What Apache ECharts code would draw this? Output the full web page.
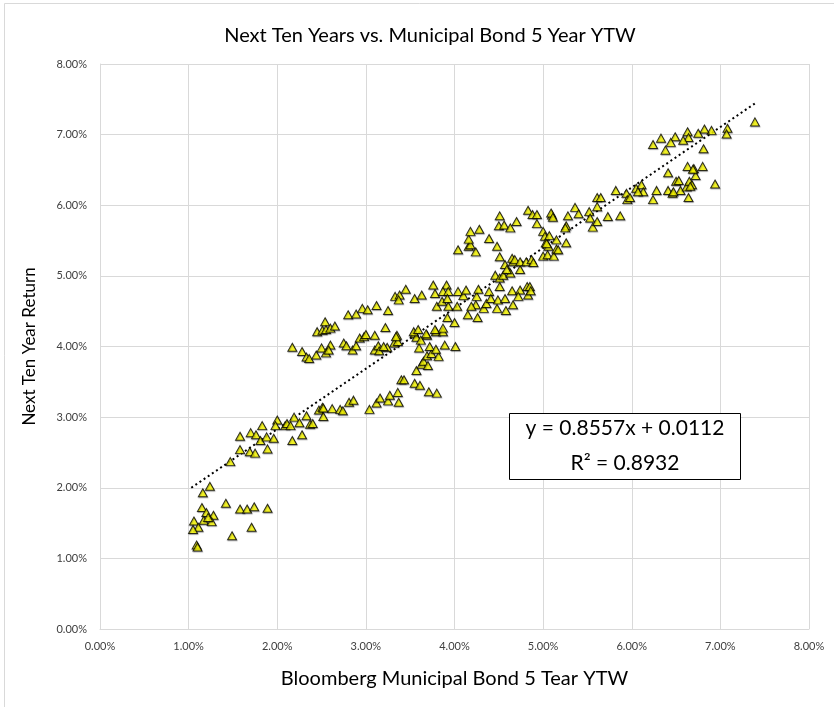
<!DOCTYPE html>
<html>
<head>
<meta charset="utf-8">
<script src="https://cdn.jsdelivr.net/npm/echarts@6/dist/echarts.min.js"></script>
<style>
html,body{margin:0;padding:0;background:#fff;}
#chart{width:834px;height:707px;}
</style>
</head>
<body>
<div id="chart"></div>
<script>
// Bloomberg Municipal Bond 5 Year YTW (%)
const ytw = [
1.24,1.16,1.15,1.20,1.28,1.06,1.17,1.26,1.11,1.05,1.09,1.10,1.42,1.49,1.58,1.66,1.74,1.71,1.89,1.22,
1.47,1.58,1.58,1.69,1.75,1.70,1.76,1.81,1.89,1.83,1.88,1.96,2.00,1.98,2.09,2.11,2.15,2.19,2.17,2.25,
2.28,2.33,2.37,2.40,2.47,2.51,2.52,2.52,2.62,2.71,2.74,2.81,2.86,3.04,3.12,3.16,3.25,3.27,3.36,3.37,
3.40,3.43,3.55,3.61,3.71,3.80,3.57,3.63,3.65,3.70,3.69,3.74,3.82,
2.17,2.28,2.33,2.36,2.44,2.50,2.55,2.60,2.58,2.54,2.45,2.51,2.55,2.60,2.65,2.80,2.89,2.96,3.02,3.12,
3.25,2.75,2.78,2.85,2.89,2.93,2.98,3.00,3.10,3.10,3.14,3.15,3.22,3.24,3.32,3.35,3.36,3.20,3.34,3.33,
3.38,3.45,3.37,3.55,3.63,3.55,3.57,3.62,3.60,3.69,3.79,3.87,3.72,3.89,3.79,4.01,3.54,3.59,3.68,3.78,
3.87,4.00,3.92,3.80,3.86,3.93,4.03,3.78,3.76,3.91,3.87,3.93,3.92,4.04,4.10,4.13,4.25,4.24,4.27,4.15,
4.19,4.26,4.33,4.36,4.39,4.41,4.48,4.49,4.51,4.57,4.58,4.66,4.65,4.74,4.82,4.85,4.83,4.86,4.72,
4.46,4.51,4.55,4.57,4.63,4.59,4.66,4.74,4.65,4.68,4.74,4.81,4.87,4.89,4.51,
4.04,4.16,4.24,4.18,4.16,4.18,4.28,4.39,4.48,4.51,4.50,4.56,4.63,4.70,4.83,4.88,4.93,4.93,5.10,5.00,
5.02,5.03,5.06,5.00,5.05,5.12,5.15,5.15,5.09,5.11,5.04,5.07,5.17,5.26,
5.28,5.26,5.25,5.36,5.40,5.52,5.53,5.56,5.61,5.61,5.61,5.65,5.73,5.87,5.82,5.94,5.95,5.98,6.05,6.11,
6.13,6.07,6.24,6.28,6.41,6.46,6.50,6.55,6.64,6.62,6.65,6.68,6.41,6.63,6.70,6.72,6.38,
7.39,7.08,7.07,6.90,6.82,6.75,6.63,6.64,6.58,6.49,6.44,6.33,6.24,6.81,6.69,6.80,6.53,6.66,6.47,6.94
];
// Next Ten Year Return (%)
const nextTen = [
2.02,1.93,1.72,1.65,1.61,1.53,1.54,1.52,1.44,1.41,1.19,1.16,1.78,1.32,1.70,1.70,1.73,1.44,1.71,1.58,
2.37,2.54,2.73,2.51,2.49,2.78,2.75,2.67,2.55,2.88,2.72,2.70,2.96,2.88,2.88,2.91,2.88,3.00,2.67,2.92,
2.75,3.02,2.90,2.91,3.10,3.14,3.01,3.13,3.12,3.11,3.09,3.21,3.24,3.11,3.20,3.27,3.23,3.31,3.35,3.21,
3.53,3.53,3.48,3.45,3.36,3.34,3.66,3.75,3.79,3.73,3.87,3.90,3.86,
3.99,3.93,3.85,3.83,3.88,3.98,3.91,4.02,3.95,4.35,4.21,4.23,4.24,4.26,4.29,4.45,4.46,4.54,4.52,4.58,
4.51,4.05,4.01,3.95,4.01,4.12,4.14,4.17,4.16,3.95,4.01,3.94,4.27,3.99,4.05,4.16,4.07,4.00,4.14,4.71,
4.73,4.81,4.66,4.68,4.73,4.18,4.13,4.09,3.98,4.16,4.21,4.21,4.00,4.02,3.96,4.00,4.21,4.24,4.18,4.24,
4.26,4.34,4.41,4.57,4.64,4.57,4.57,4.75,4.87,4.87,4.78,4.78,4.68,4.78,4.72,4.80,4.71,4.59,4.81,4.45,
4.57,4.41,4.54,4.61,4.78,4.68,4.54,4.66,4.85,4.68,4.51,4.59,4.79,4.80,4.85,4.85,4.73,4.79,4.71,
5.01,4.97,5.01,5.16,5.04,5.09,5.20,5.09,5.25,5.23,5.20,5.20,5.23,5.19,5.27,
5.37,5.42,5.34,5.44,5.52,5.63,5.66,5.53,5.42,5.85,5.71,5.72,5.68,5.77,5.93,5.87,5.87,5.74,5.86,5.63,
5.56,5.47,5.42,5.28,5.30,5.28,5.38,5.51,5.89,5.83,5.46,5.57,5.37,5.47,
5.85,5.71,5.68,5.97,5.88,5.91,5.82,5.69,5.77,5.98,6.11,6.11,5.84,5.85,6.21,6.17,6.08,6.11,6.24,6.29,
6.19,6.19,6.08,6.21,6.21,6.17,6.34,6.21,6.11,6.26,6.34,6.29,6.46,6.55,6.52,6.42,6.78,
7.18,7.09,7.01,7.06,7.08,7.02,7.04,6.96,6.92,6.97,6.89,6.95,6.86,6.80,6.51,6.55,6.35,6.27,6.19,6.30
];
// Linear trendline endpoints
const trendX = [1.03, 7.40];
const trendY = [2.00, 7.45];
const xTicks = [0,1,2,3,4,5,6,7,8];
const yTicks = [0,1,2,3,4,5,6,7,8];
const titleText = 'Next Ten Years vs. Municipal Bond 5 Year YTW';
const xName = 'Bloomberg Municipal Bond 5 Tear YTW';
const yName = 'Next Ten Year Return';
const eqLines = ['y = 0.8557x + 0.0112', 'R² = 0.8932'];

const points = ytw.map((x, i) => [x, nextTen[i]]);
const trend = trendX.map((x, i) => [x, trendY[i]]);
const FONT = 'Lato, "Open Sans", sans-serif';

const chart = echarts.init(document.getElementById('chart'));
chart.setOption({
  animation: false,
  backgroundColor: '#ffffff',
  title: {
    text: titleText, left: 425, top: 21, textAlign: 'center',
    textStyle: {fontFamily: FONT, fontSize: 20, fontWeight: 'normal', color: '#000'}
  },
  grid: {left: 100, right: 25, top: 64, bottom: 78},
  xAxis: {
    type: 'value', min: xTicks[0], max: xTicks[xTicks.length-1], interval: 1,
    name: xName, nameLocation: 'middle', nameGap: 40,
    nameTextStyle: {fontFamily: FONT, fontSize: 20, color: '#000'},
    axisLine: {show: true, lineStyle: {color: '#d9d9d9'}},
    axisTick: {show: false},
    axisLabel: {fontFamily: FONT, fontSize: 11, color: '#404040', margin: 12,
      formatter: v => v.toFixed(2) + '%'},
    splitLine: {show: true, lineStyle: {color: '#d9d9d9', width: 1}}
  },
  yAxis: {
    type: 'value', min: yTicks[0], max: yTicks[yTicks.length-1], interval: 1,
    name: yName, nameLocation: 'middle', nameGap: 62, nameRotate: 90,
    nameTextStyle: {fontFamily: FONT, fontSize: 17, color: '#000'},
    axisLine: {show: true, lineStyle: {color: '#d9d9d9'}},
    axisTick: {show: false},
    axisLabel: {fontFamily: FONT, fontSize: 11, color: '#404040', margin: 13,
      formatter: v => v.toFixed(2) + '%'},
    splitLine: {show: true, lineStyle: {color: '#d9d9d9', width: 1}}
  },
  series: [
    {
      type: 'scatter', data: points, symbol: 'triangle', symbolSize: [9, 8],
      itemStyle: {color: '#ffff00', borderColor: '#000', borderWidth: 1,
        shadowColor: 'rgba(0,0,0,0.35)', shadowBlur: 1, shadowOffsetX: 0.5, shadowOffsetY: 1},
      z: 3
    },
    {
      type: 'line', data: trend, symbol: 'none', silent: true,
      lineStyle: {color: '#000', width: 2, type: [2, 3]}, z: 2
    }
  ],
  graphic: [
    {type: 'rect', shape: {x: 4.5, y: 3.5, width: 840, height: 720},
     style: {fill: 'none', stroke: '#d9d9d9', lineWidth: 1}, silent: true, z: -10},
    {type: 'rect', shape: {x: 509.5, y: 413.5, width: 231, height: 66},
     style: {fill: '#fff', stroke: '#000', lineWidth: 1}, z: 100},
    {type: 'text', x: 625, y: 428, z: 101,
     style: {text: eqLines[0], fontFamily: FONT, fontSize: 21, fill: '#000',
       textAlign: 'center', textVerticalAlign: 'middle'}},
    {type: 'text', x: 625, y: 463, z: 101,
     style: {text: eqLines[1], fontFamily: FONT, fontSize: 21, fill: '#000',
       textAlign: 'center', textVerticalAlign: 'middle'}}
  ]
});
</script>
</body>
</html>
